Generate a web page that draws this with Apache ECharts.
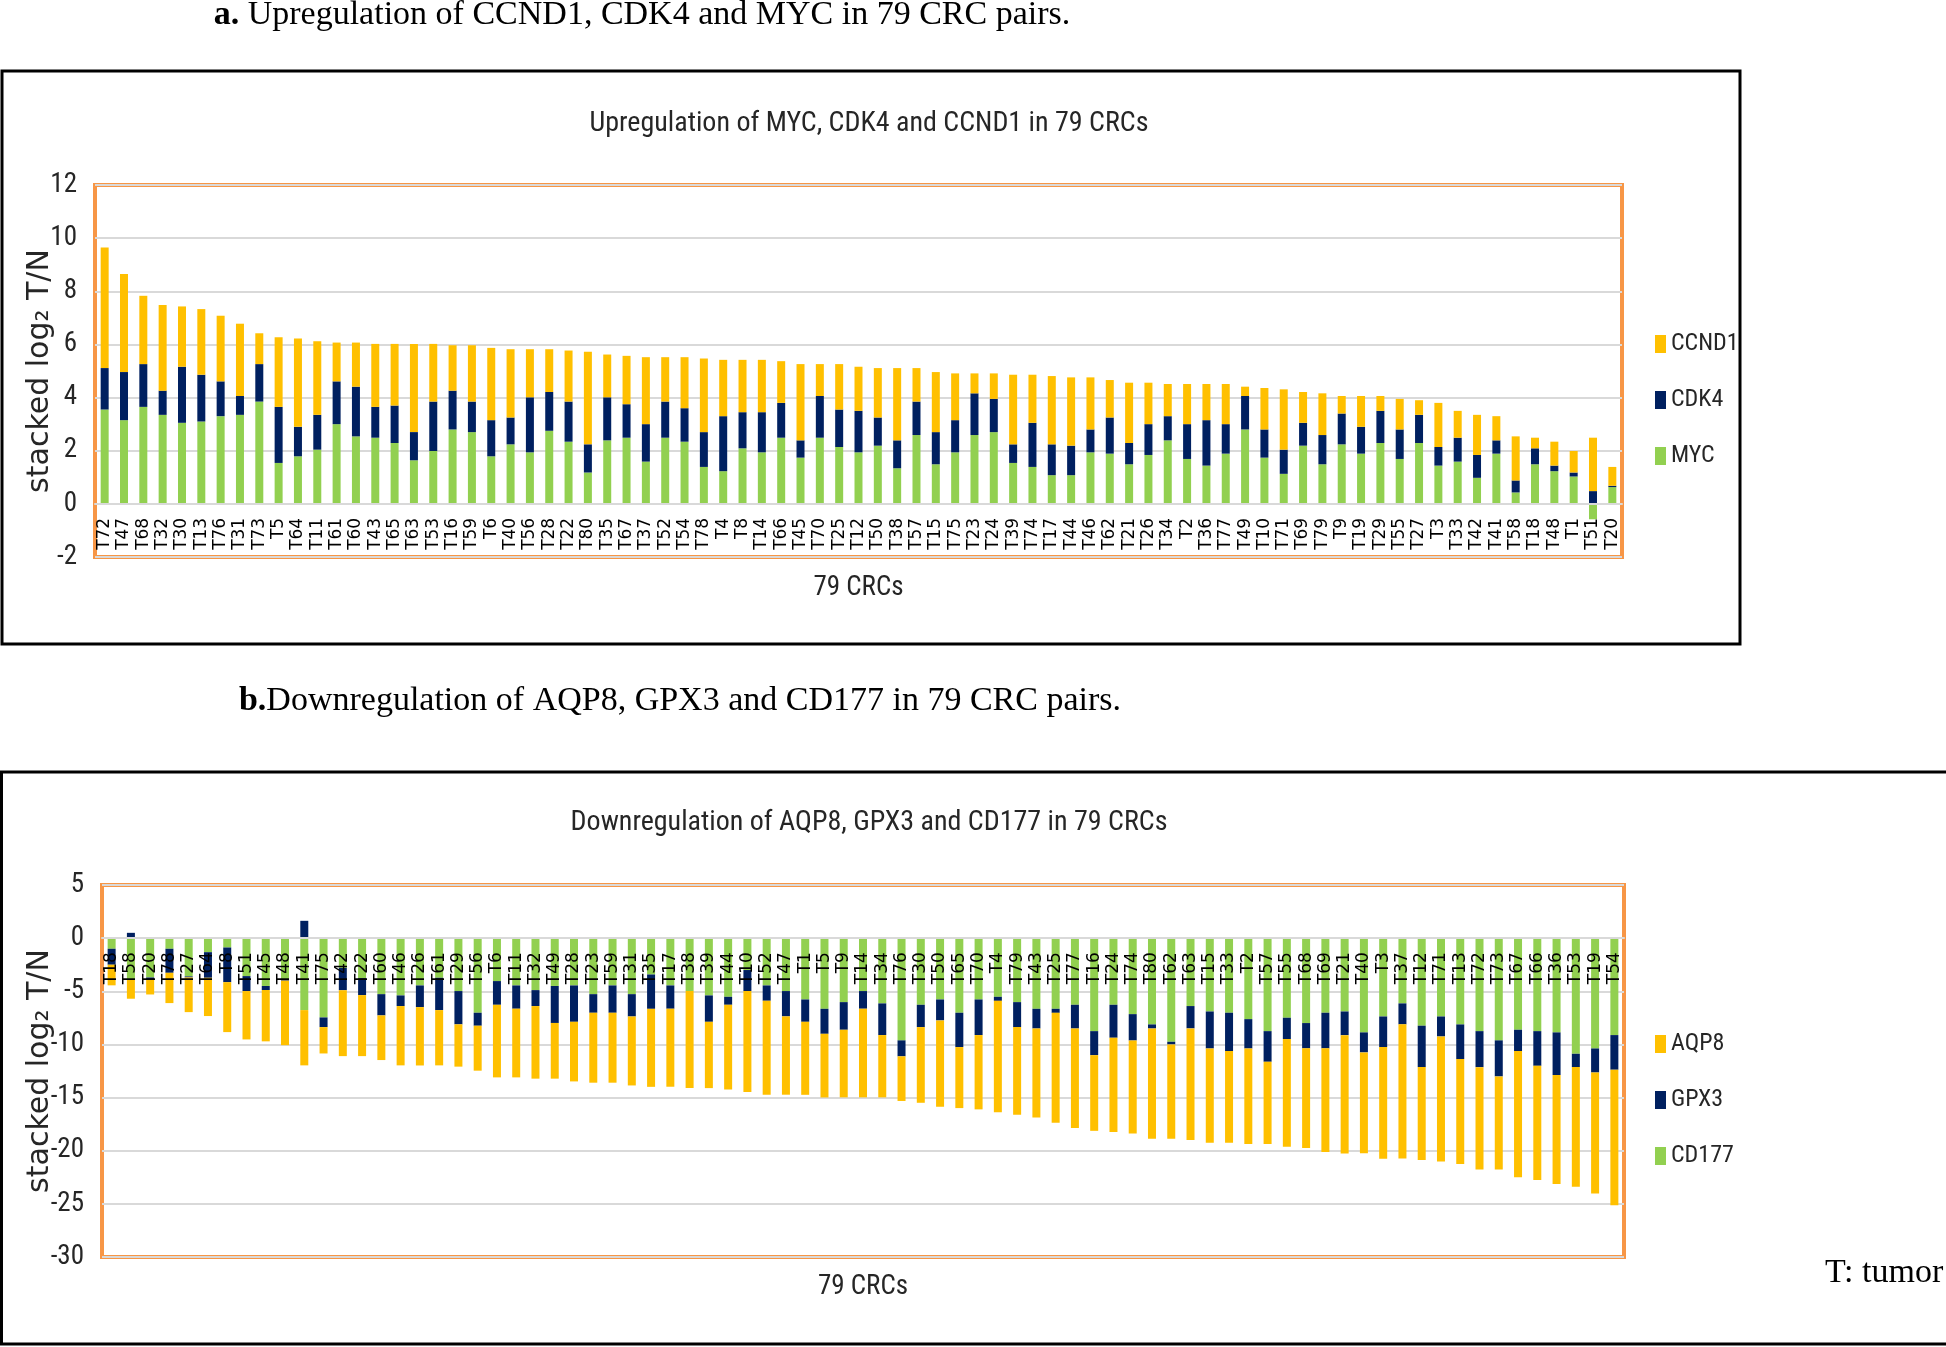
<!DOCTYPE html>
<html>
<head>
<meta charset="utf-8">
<script src="https://cdn.jsdelivr.net/npm/echarts@6/dist/echarts.min.js"></script>
<style>
html,body{margin:0;padding:0;background:#fff;}
#c{width:1946px;height:1347px;}
</style>
</head>
<body>
<div id="c"></div>
<script>
// ---------- Panel a: upregulation ----------
const upCats = ['T72','T47','T68','T32','T30','T13','T76','T31','T73','T5','T64','T11','T61','T60','T43','T65','T63',
  'T53','T16','T59','T6','T40','T56','T28','T22','T80','T35','T67','T37','T52','T54','T78','T4',
  'T8','T14','T66','T45','T70','T25','T12','T50','T38','T57','T15','T75','T23','T24','T39','T74',
  'T17','T44','T46','T62','T21','T26','T34','T2','T36','T77','T49','T10','T71','T69','T79','T9',
  'T19','T29','T55','T27','T3','T33','T42','T41','T58','T18','T48','T1','T51','T20'];
const mycVals = [3.55,3.15,3.65,3.35,3.05,3.10,3.30,3.35,3.85,1.54,1.79,2.04,3.00,2.54,2.49,2.29,1.64,
  1.99,2.80,2.70,1.79,2.24,1.94,2.75,2.34,1.18,2.39,2.49,1.59,2.49,2.34,1.39,1.23,
  2.09,1.94,2.49,1.74,2.49,2.14,1.94,2.19,1.34,2.59,1.49,1.94,2.59,2.70,1.54,1.39,
  1.08,1.08,1.94,1.89,1.49,1.84,2.39,1.69,1.44,1.89,2.80,1.74,1.13,2.19,1.49,2.24,
  1.89,2.29,1.69,2.29,1.44,1.59,0.98,1.89,0.43,1.49,1.23,1.03,-0.58,0.63];
const cdk4Vals = [1.56,1.81,1.61,0.91,2.11,1.76,1.31,0.71,1.41,2.11,1.11,1.31,1.61,1.87,1.16,1.41,1.06,
  1.86,1.46,1.15,1.36,1.01,2.07,1.46,1.51,1.06,1.62,1.26,1.41,1.36,1.26,1.31,2.07,
  1.36,1.51,1.31,0.65,1.57,1.41,1.56,1.06,1.05,1.26,1.21,1.21,1.57,1.25,0.70,1.66,
  1.16,1.11,0.86,1.36,0.80,1.16,0.91,1.31,1.71,1.11,1.26,1.06,0.91,0.86,1.10,1.16,
  1.01,1.21,1.11,1.06,0.70,0.90,0.86,0.50,0.45,0.60,0.21,0.15,0.48,0.05];
const ccnd1Vals = [4.54,3.69,2.57,3.22,2.27,2.47,2.47,2.72,1.16,2.62,3.32,2.77,1.46,1.66,2.37,2.32,3.32,
  2.17,1.71,2.12,2.72,2.57,1.81,1.61,1.92,3.48,1.61,1.82,2.52,1.67,1.92,2.77,2.12,
  1.97,1.97,1.57,2.87,1.20,1.71,1.66,1.86,2.72,1.26,2.26,1.76,0.75,0.96,2.62,1.81,
  2.57,2.57,1.96,1.41,2.27,1.56,1.21,1.51,1.36,1.51,0.35,1.56,2.27,1.16,1.57,0.66,
  1.16,0.56,1.15,0.55,1.66,1.01,1.51,0.91,1.66,0.40,0.90,0.81,2.01,0.71];
const upTicks = {min: -2, max: 12, interval: 2};

// ---------- Panel b: downregulation ----------
const downCats = ['T18','T58','T20','T78','T27','T64','T8','T51','T45','T48','T41','T75','T42','T22','T60','T46',
  'T26','T61','T29','T56','T6','T11','T32','T49','T28','T23','T59','T31','T35','T17','T38','T39','T44',
  'T10','T52','T47','T1','T5','T9','T14','T34','T76','T30','T50','T65','T70','T4','T79','T43',
  'T25','T77','T16','T24','T74','T80','T62','T63','T15','T33','T2','T57','T55','T68','T69','T21',
  'T40','T3','T37','T12','T71','T13','T72','T73','T67','T66','T36','T53','T19','T54'];
const cd177Vals = [-1.0,-3.9,-3.7,-1.0,-3.6,-1.32,-0.88,-3.57,-4.5,-3.9,-6.77,-7.46,-2.8,-3.76,-5.27,-5.39,
  -4.45,-3.73,-4.98,-7.02,-4.04,-4.45,-4.89,-4.5,-4.45,-5.27,-4.45,-5.27,-3.42,-4.45,-4.98,-5.39,-5.52,
  -3.0,-4.45,-4.98,-5.77,-6.65,-6.02,-4.98,-6.14,-9.62,-6.27,-5.77,-7.02,-5.77,-5.52,-6.02,-6.65,
  -6.65,-6.27,-8.75,-6.27,-7.15,-8.12,-9.75,-6.39,-6.9,-7.02,-7.62,-8.75,-7.49,-7.99,-7.02,-6.9,
  -8.87,-7.37,-6.14,-8.24,-7.37,-8.12,-8.75,-9.62,-8.62,-8.75,-8.87,-10.88,-10.38,-9.12];
const gpx3Vals = [-1.5,0.5,-0.2,-2.26,-0.1,-2.41,-3.26,-1.41,-0.38,-0.1,1.63,-0.91,-2.1,-1.6,-2.0,-1.0,
  -2.04,-3.04,-3.13,-1.22,-2.23,-2.19,-1.5,-3.48,-3.42,-1.75,-2.57,-2.1,-3.23,-2.19,0,-2.48,-0.75,
  -1.98,-1.44,-2.38,-2.1,-2.35,-2.6,-1.66,-2.98,-1.5,-2.1,-1.97,-3.23,-3.35,-0.38,-2.35,-1.85,
  -0.38,-2.23,-2.26,-3.1,-2.48,-0.38,-0.25,-2.1,-3.48,-3.6,-2.76,-2.88,-2.0,-2.38,-3.35,-2.23,
  -1.88,-2.88,-1.97,-3.89,-1.88,-3.26,-3.39,-3.39,-2.0,-3.26,-4.01,-1.25,-2.26,-3.26];
const aqp8Vals = [-1.94,-1.8,-1.4,-2.85,-3.26,-3.6,-4.7,-4.55,-4.83,-6.07,-5.2,-2.48,-6.2,-5.74,-4.2,-5.58,
  -5.49,-5.2,-3.98,-4.23,-6.83,-6.46,-6.83,-5.24,-5.61,-6.58,-6.58,-6.49,-7.34,-7.34,-9.12,-6.24,-7.96,
  -9.5,-8.84,-7.37,-6.87,-5.99,-6.36,-8.34,-5.86,-4.2,-7.12,-8.12,-5.74,-6.99,-10.47,-8.24,-8.37,
  -10.34,-9.37,-7.12,-8.87,-8.75,-10.38,-8.87,-10.5,-8.87,-8.62,-9.0,-7.74,-10.13,-9.37,-9.75,-11.13,
  -9.5,-10.5,-12.63,-8.75,-11.76,-9.87,-9.62,-8.75,-11.88,-10.75,-10.25,-11.25,-11.38,-12.76];
const downTicks = {min: -30, max: 5, interval: 5};

// ---------- styling ----------
const YELLOW = '#FFC000', NAVY = '#002060', GREEN = '#92D050', ORANGE = '#F79646', GRIDC = '#D9D9D9';
const NARROW = 'Roboto Condensed, Liberation Sans Narrow, sans-serif';
const SERIF = 'Liberation Serif, Times New Roman, serif';
const WIDE = 'DejaVu Sans';

// grid geometry (plot rectangles)
const G0 = {left: 95, top: 185, width: 1527, height: 372};
const G1 = {left: 102, top: 885, width: 1522, height: 372};
// the category axis sits on the value-0 line, as in the original
function zeroOffset(g, t) { return -g.height * (0 - t.min) / (t.max - t.min); }

function xAxisCfg(gridIndex, cats, g, t, nameGap) {
  return {
    type: 'category', gridIndex, data: cats, z: 10, position: 'bottom',
    offset: zeroOffset(g, t),
    axisTick: {show: false},
    axisLine: {onZero: false, lineStyle: {color: GRIDC, width: 2}},
    axisLabel: {rotate: 90, interval: 0, fontFamily: WIDE, fontSize: 17, color: '#000', margin: 14},
    name: '79 CRCs', nameLocation: 'middle', nameGap, nameMoveOverlap: false,
    nameTextStyle: {fontFamily: NARROW, fontSize: 27, color: '#262626', verticalAlign: 'top'}
  };
}
function yAxisCfg(gridIndex, t, nameGap) {
  return {
    type: 'value', gridIndex, min: t.min, max: t.max, interval: t.interval,
    axisLine: {show: false}, axisTick: {show: false},
    splitLine: {lineStyle: {color: GRIDC, width: 2}},
    axisLabel: {fontFamily: NARROW, fontSize: 27, color: '#262626', margin: 18},
    name: 'stacked log\u2082 T/N', nameLocation: 'middle', nameGap, nameMoveOverlap: false,
    nameTextStyle: {fontFamily: WIDE, fontSize: 30, color: '#262626'}
  };
}
function barSeries(name, data, color, idx, stack) {
  return {name, type: 'bar', stack, data, xAxisIndex: idx, yAxisIndex: idx,
    barWidth: 8, itemStyle: {color}, emphasis: {disabled: true}};
}
function legendCfg(names, top) {
  return {orient: 'vertical', left: 1650, top, data: names, icon: 'rect',
    itemWidth: 11, itemHeight: 18, itemGap: 32,
    textStyle: {fontFamily: NARROW, fontSize: 24, color: '#262626'}};
}

const chart = echarts.init(document.getElementById('c'), null, {renderer: 'canvas'});
chart.setOption({
  animation: false,
  backgroundColor: '#fff',
  grid: [
    Object.assign({show: true, borderColor: ORANGE, borderWidth: 4, backgroundColor: 'transparent', outerBoundsMode: 'none', containLabel: false}, G0),
    Object.assign({show: true, borderColor: ORANGE, borderWidth: 4, backgroundColor: 'transparent', outerBoundsMode: 'none', containLabel: false}, G1)
  ],
  xAxis: [xAxisCfg(0, upCats, G0, upTicks, 71), xAxisCfg(1, downCats, G1, downTicks, 336)],
  yAxis: [yAxisCfg(0, upTicks, 40), yAxisCfg(1, downTicks, 47)],
  legend: [legendCfg(['CCND1','CDK4','MYC'], 327), legendCfg(['AQP8','GPX3','CD177'], 1027)],
  series: [
    barSeries('MYC', mycVals, GREEN, 0, 'up'),
    barSeries('CDK4', cdk4Vals, NAVY, 0, 'up'),
    barSeries('CCND1', ccnd1Vals, YELLOW, 0, 'up'),
    barSeries('CD177', cd177Vals, GREEN, 1, 'down'),
    barSeries('GPX3', gpx3Vals, NAVY, 1, 'down'),
    barSeries('AQP8', aqp8Vals, YELLOW, 1, 'down')
  ],
  graphic: [
    {type: 'rect', shape: {x: 2, y: 71, width: 1738, height: 573}, style: {fill: 'none', stroke: '#000', lineWidth: 3}, z: 0},
    {type: 'rect', shape: {x: 1.5, y: 772, width: 1960, height: 572}, style: {fill: 'none', stroke: '#000', lineWidth: 3}, z: 0},
    {type: 'text', x: 642, y: 15, style: {text: '{b|a.} Upregulation of CCND1, CDK4 and MYC in 79 CRC pairs.',
      rich: {b: {fontWeight: 'bold', fontFamily: SERIF, fontSize: 34, fill: '#000'}},
      fontFamily: SERIF, fontSize: 34, fill: '#000', textAlign: 'center', textVerticalAlign: 'middle'}},
    {type: 'text', x: 680, y: 701, style: {text: '{b|b.}Downregulation of AQP8, GPX3 and CD177 in 79 CRC pairs.',
      rich: {b: {fontWeight: 'bold', fontFamily: SERIF, fontSize: 34, fill: '#000'}},
      fontFamily: SERIF, fontSize: 34, fill: '#000', textAlign: 'center', textVerticalAlign: 'middle'}},
    {type: 'text', x: 869, y: 124, style: {text: 'Upregulation of MYC, CDK4 and CCND1 in 79 CRCs',
      fontFamily: NARROW, fontSize: 28, fill: '#262626', textAlign: 'center', textVerticalAlign: 'middle'}},
    {type: 'text', x: 869, y: 823, style: {text: 'Downregulation of AQP8, GPX3 and CD177 in 79 CRCs',
      fontFamily: NARROW, fontSize: 28, fill: '#262626', textAlign: 'center', textVerticalAlign: 'middle'}},
    {type: 'text', x: 1825, y: 1273, style: {text: 'T: tumor', fontFamily: SERIF, fontSize: 34, fill: '#000', textAlign: 'left', textVerticalAlign: 'middle'}}
  ]
});
</script>
</body>
</html>
